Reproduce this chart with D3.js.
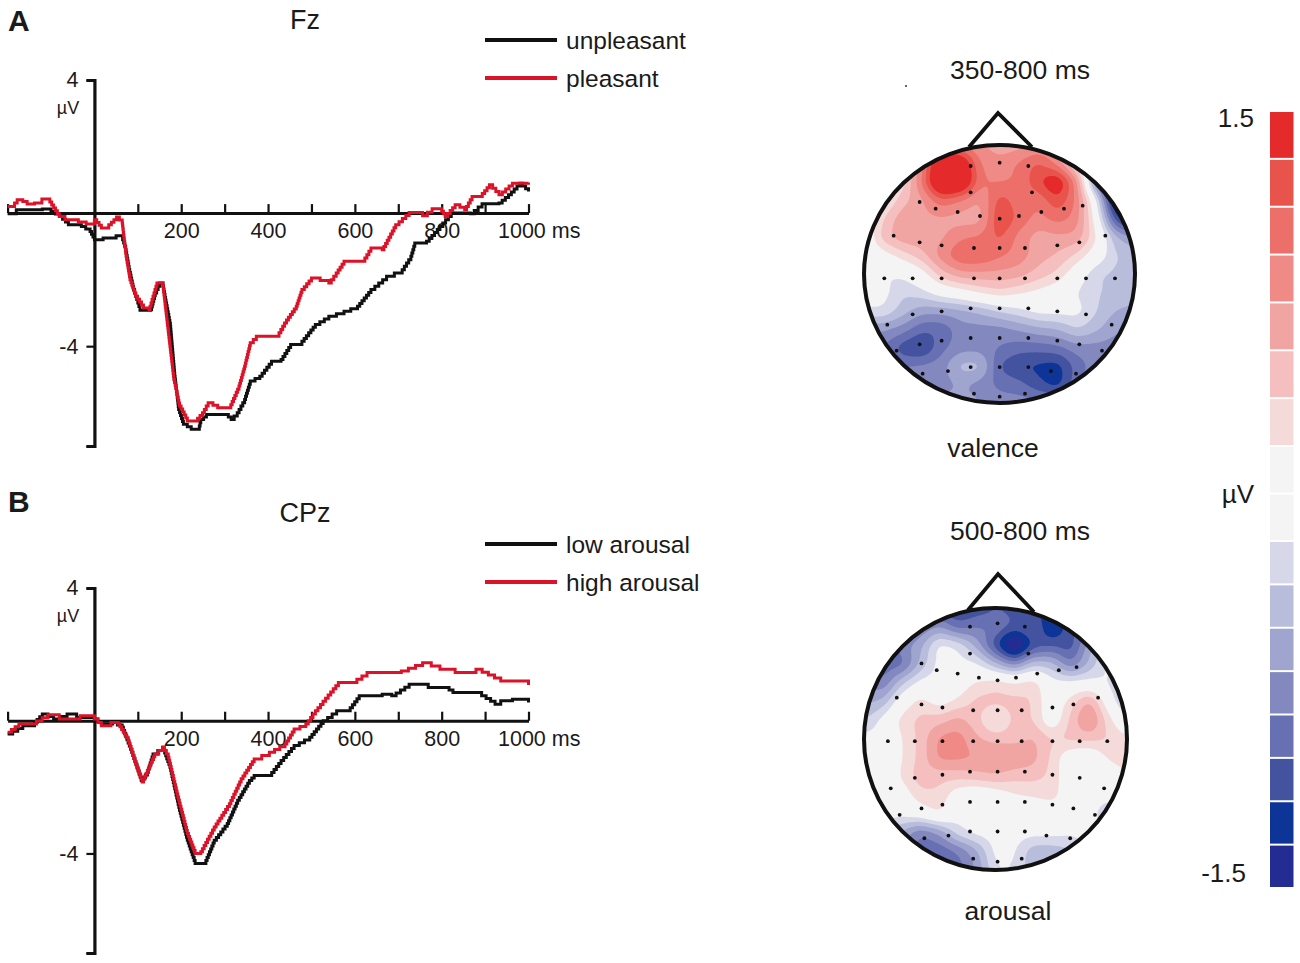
<!DOCTYPE html>
<html><head><meta charset="utf-8">
<script src="https://cdn.jsdelivr.net/npm/d3@7"></script>
<style>html,body{margin:0;background:#fff}svg{display:block}text{font-family:"Liberation Sans",Arial,sans-serif;fill:#1a1a1a}</style>
</head><body><svg id="c" width="1300" height="963"></svg>
<script>
// ERP waveforms: [ms, µV]
const unpleasant=[[-200,-.02],[-180,.1],[-120,.12],[-100,.05],[-80,-.1],[-60,-.35],[-30,-.4],[-10,-.55],[0,-.8],[20,-.75],[50,-.68],[65,-.8],[72,-1.1],[80,-1.7],[90,-2.3],[100,-2.7],[105,-2.92],[130,-2.9],[140,-2.4],[150,-2.1],[158,-2.2],[165,-2.7],[175,-3.4],[185,-4.9],[194,-5.9],[205,-6.35],[223,-6.5],[240,-6.5],[245,-6.2],[258,-6.05],[276,-6.05],[302,-6.05],[315,-6.2],[329,-6],[346,-5.6],[359,-5.05],[381,-4.9],[408,-4.45],[430,-4.4],[452,-3.95],[478,-3.85],[509,-3.35],[540,-3.1],[575,-2.95],[606,-2.8],[637,-2.3],[673,-1.9],[709,-1.7],[729,-1.3],[738,-.9],[765,-.85],[796,-.4],[822,0],[866,-.02],[893,.28],[932,.3],[954,.55],[980,.9],[1000,.65]];
const pleasant=[[-200,.2],[-190,.2],[-178,.4],[-165,.35],[-155,.27],[-138,.3],[-121,.42],[-107,.42],[-94,.15],[-81,-.1],[-68,-.2],[-55,-.2],[-37,-.27],[-19,-.33],[0,-.2],[16,-.45],[33,-.35],[51,-.12],[64,-.3],[73,-1.3],[82,-2],[95,-2.5],[113,-2.85],[126,-2.9],[135,-2.5],[144,-2.1],[157,-2.1],[166,-3.1],[174,-4],[183,-5],[196,-5.8],[214,-6.25],[232,-6.25],[249,-6],[262,-5.7],[284,-5.85],[311,-5.85],[333,-5.2],[346,-4.6],[359,-3.9],[373,-3.7],[421,-3.7],[438,-3.3],[465,-2.8],[478,-2.3],[500,-1.95],[540,-2.1],[557,-1.8],[575,-1.45],[623,-1.35],[637,-1.05],[663,-1.1],[694,-.35],[725,.02],[756,-.08],[778,.13],[796,.13],[808,-.1],[831,.25],[853,.1],[870,.5],[888,.5],[910,.85],[932,.55],[963,.9],[1000,.92]];
const lowArousal=[[-200,-.4],[-165,-.15],[-138,-.05],[-120,.2],[-94,.05],[-63,.2],[-41,.1],[0,.05],[16,-.1],[42,-.05],[64,-.2],[86,-.95],[108,-1.8],[122,-1.55],[135,-1],[157,-.8],[174,-1.4],[196,-2.7],[214,-3.6],[232,-4.3],[254,-4.3],[276,-3.6],[306,-3.1],[330,-2.4],[357,-1.8],[368,-1.65],[403,-1.65],[430,-1.2],[460,-.75],[496,-.5],[527,0],[558,.3],[584,.3],[610,.75],[663,.8],[685,.75],[725,1.1],[769,1],[808,1],[826,.85],[892,.75],[923,.5],[936,.6],[963,.65],[1000,.55]];
const highArousal=[[-200,-.35],[-174,-.1],[-147,-.1],[-107,.18],[-81,.05],[-33,.15],[0,.05],[16,-.15],[38,-.05],[55,-.1],[78,-.6],[95,-1.3],[110,-1.85],[122,-1.5],[139,-1],[157,-.8],[170,-1.1],[192,-2.3],[214,-3.4],[232,-4],[245,-3.95],[276,-3.2],[311,-2.5],[338,-1.75],[368,-1.15],[403,-.95],[439,-.7],[460,-.25],[487,-.1],[509,.3],[562,1.15],[593,1.15],[628,1.45],[707,1.5],[756,1.75],[796,1.55],[831,1.45],[879,1.55],[936,1.2],[1000,1.08]];
const xTicks=[-200,100,200,300,400,500,600,700,800,900,1000];
const xLabels=[200,400,600,800,1000];
const yTicks=[4,-4,-7];
const yLabels=[4,-4];

// Scalp fields (µV) sampled on a 15×15 grid across each head's bounding box
const fieldValence=[
[0,0,.3,.6,.9,.9,.8,.7,.7,.8,.7,.4,0,-.5,-1],
[0,0,.2,.9,1.8,1.7,.95,.85,1,1.2,.9,.3,-.3,-1.2,-1.5],
[0,0,.35,1,1.9,1.8,1,.95,1,1.3,1.6,.9,-.8,-1.7,-1.8],
[0,.2,.55,.75,1.1,.95,.75,1.25,1.05,1,1.3,.95,0,-1.6,-1.8],
[0,.45,.75,.75,.75,.7,.7,1.35,1.1,.9,1.05,.9,.15,-1.1,-1.5],
[0,.55,.75,.75,.75,.95,1,1.2,.9,.7,.75,.75,.3,-.4,-.6],
[0,.15,.35,.55,.9,1.15,1.15,1,.9,.7,.6,.4,.1,-.25,-.35],
[0,-.1,-.05,.15,.55,.75,.75,.75,.7,.55,.4,.08,-.25,-.3,-.35],
[0,0,-.25,-.15,.05,.15,.3,.4,.3,.2,.1,-.1,-.25,-.3,-.35],
[-.1,-.1,-.35,-.55,-.55,-.5,-.4,-.25,-.15,0,0,0,-.25,-.45,-.5],
[-.6,-.6,-.7,-.95,-.95,-.7,-.7,-.7,-.6,-.5,-.45,-.25,-.4,-.6,-.6],
[-.8,-.8,-1.1,-1.2,-.85,-.7,-.7,-.8,-.9,-.9,-.85,-.7,-.7,-.7,-.7],
[-.7,-.7,-.8,-.75,-.7,-.35,-.35,-1,-1.15,-1.2,-1.25,-.9,-.7,-.7,-.7],
[-.6,-.6,-.6,-.65,-.7,-.6,-.7,-.85,-.9,-1.1,-1.25,-.85,-.6,-.6,-.6],
[-.5,-.5,-.5,-.5,-.55,-.55,-.6,-.7,-.7,-.7,-.7,-.6,-.5,-.5,-.5]];
const fieldArousal=[
[-1,-1,-1,-1,-1.1,-1.2,-1.1,-1,-1,-1.1,-1.3,-1.2,-.9,-.7,-.4],
[-1,-1,-1,-.8,-.6,-.9,-.8,-.8,-1,-.9,-1.4,-1,-.8,-.4,-.3],
[-1,-1,-.7,-.5,0,-.1,-.5,-1.1,-1.8,-1.1,-1,-1.1,-.5,-.15,-.1],
[-1,-.9,-.9,-.4,0,0,-.05,-.4,-.7,-.3,-.35,-.8,-.4,0,0],
[-.6,-.8,-.3,0,0,.1,.3,.4,.3,.4,0,0,0,-.1,-.4],
[-.5,-.4,.1,.35,.15,.3,.5,.5,.5,.45,.05,.35,.7,.1,-.4],
[-.3,0,.35,.5,.55,.7,.5,.15,.5,.45,.05,.5,.9,.35,0],
[0,0,.25,.5,.85,.9,.65,.55,.55,.65,.45,.5,.5,.45,.3],
[0,0,.25,.5,.85,.85,.8,.85,.8,.7,.4,.05,0,.3,.5],
[0,0,.3,.55,.5,.5,.55,.6,.5,.5,.4,.05,0,0,.15],
[0,0,.1,.4,.4,.1,0,.1,.25,.3,.35,.1,0,0,0],
[0,0,0,.1,.3,0,0,0,0,0,.1,.2,0,-.25,-.25],
[-.2,-.2,-.5,-.8,-.6,-.15,0,0,0,0,0,-.05,0,-.1,-.1],
[-.4,-.4,-.5,-.95,-.95,-.8,-.5,0,-.05,-.4,-.4,-.3,-.1,-.1,-.1],
[-.6,-.6,-.6,-.9,-.9,-.9,-.6,-.1,-.1,-.4,-.4,-.3,-.1,-.1,-.1]];
const electrodeX=[362,449,535,362,546,209,257,323,390,449,507,574,642,698,131,209,275,372,449,525,622,688,766,103,188,275,372,449,525,622,708,795,188,275,362,449,535,622,708,112,785,209,275,362,449,535,622,688,140,756,294,362,449,535,603,218,678,372,449,525];
const electrodeY=[198,188,198,277,277,306,326,336,348,356,348,336,326,317,407,427,436,444,444,444,436,427,407,535,535,535,535,535,535,535,535,535,643,634,625,625,625,634,643,674,674,733,722,714,714,714,722,733,752,752,813,801,801,801,813,821,821,881,890,881];

const colorbarLevels=["#e42a2a","#e8534b","#ec7069","#ef8a86","#f1a5a3","#f4bfbe","#f5dada","#f4f4f5","#f4f4f5","#d6d8ea","#b9bddc","#a0a5cf","#8389bf","#6670b2","#43539f","#0c3597","#232c92"];
const colorbarIndex=d3.range(colorbarLevels.length);

const svg=d3.select("#c");
const BLACK="#111",RED="#dc1228";

// Curve that draws each segment as a staircase, as in the low-resolution original trace
function StairCurve(ctx){this._c=ctx;}
StairCurve.prototype={
  areaStart(){},areaEnd(){},
  lineStart(){this._p=null;},lineEnd(){},
  point(x,y){
    if(!this._p)this._c.moveTo(x,y);
    else{
      const [x0,y0]=this._p,n=Math.max(1,Math.round(Math.abs(y-y0)/3));
      for(let k=1;k<=n;k++){
        const xk=x0+(x-x0)*k/n;
        this._c.lineTo(xk,y0+(y-y0)*(k-1)/n);
        this._c.lineTo(xk,y0+(y-y0)*k/n);
      }
    }
    this._p=[x,y];
  }
};
const stair=ctx=>new StairCurve(ctx);

function erp(o){
  const g=svg.append("g");
  const x=d3.scaleLinear().domain([-200,1000]).range([7.6,528.5]);
  const y=d3.scaleLinear().domain([4,-7]).range([o.y4,o.yBottom]);
  const xa=d3.axisBottom(x).tickValues(xTicks).tickSizeInner(-9).tickSizeOuter(0).tickPadding(10)
    .tickFormat(d=>xLabels.includes(d)?(d===1000?"1000 ms":d):"");
  const gx=g.append("g").attr("transform",`translate(0,${y(0)})`).call(xa);
  gx.selectAll(".tick text").attr("font-size",21.5).attr("fill","#1a1a1a")
    .filter(d=>d===1000).attr("text-anchor","start").attr("x",-31);
  gx.selectAll(".tick line").attr("stroke",BLACK).attr("stroke-width",2.2);
  gx.select(".domain").attr("stroke",BLACK).attr("stroke-width",3);
  const ya=d3.axisLeft(y).tickValues(yTicks).tickSize(8).tickPadding(8).tickFormat(d=>yLabels.includes(d)?d:"");
  const gy=g.append("g").attr("transform",`translate(${x(0)},0)`).call(ya);
  gy.selectAll(".tick text").attr("font-size",21.5).attr("fill","#1a1a1a");
  gy.selectAll(".tick line").attr("stroke",BLACK).attr("stroke-width",2.2);
  gy.select(".domain").attr("stroke",BLACK).attr("stroke-width",3.2);
  g.append("text").attr("x",68).attr("y",y(4)+34).attr("text-anchor","middle").attr("font-size",18).text("µV");
  const path=d3.line().x(d=>x(d[0])).y(d=>y(d[1])).curve(stair);
  g.append("path").datum(o.black).attr("d",path).attr("fill","none").attr("stroke",BLACK).attr("stroke-width",3);
  g.append("path").datum(o.red).attr("d",path).attr("fill","none").attr("stroke",RED).attr("stroke-width",3);
  g.append("text").attr("x",8).attr("y",o.letterY).attr("font-weight","bold").attr("font-size",30).text(o.letter);
  g.append("text").attr("x",305).attr("y",o.titleY).attr("text-anchor","middle").attr("font-size",27).text(o.title);
  [[o.names[0],BLACK,o.legY],[o.names[1],RED,o.legY+38]].forEach(([n,c,ly])=>{
    g.append("line").attr("x1",485).attr("x2",557).attr("y1",ly).attr("y2",ly).attr("stroke",c).attr("stroke-width",4);
    g.append("text").attr("x",566).attr("y",ly+9).attr("font-size",24.5).text(n);
  });
}
erp({black:unpleasant,red:pleasant,y4:80,yBottom:446,letter:"A",letterY:31,title:"Fz",titleY:29,names:["unpleasant","pleasant"],legY:40});
erp({black:lowArousal,red:highArousal,y4:588,yBottom:953,letter:"B",letterY:512,title:"CPz",titleY:522,names:["low arousal","high arousal"],legY:544});

// Colour bar
const barY=d3.scaleLinear().domain([0,7,9,17]).range([112,447,542,889]);
svg.append("g").selectAll("rect").data(colorbarIndex).join("rect")
  .attr("x",1270).attr("width",23.5).attr("y",i=>barY(i)).attr("height",i=>barY(i+1)-barY(i)-2)
  .attr("fill",i=>colorbarLevels[i]);
svg.append("text").attr("x",1254).attr("y",127).attr("text-anchor","end").attr("font-size",26).text("1.5");
svg.append("text").attr("x",1238).attr("y",503).attr("text-anchor","middle").attr("font-size",26).text("µV");
svg.append("text").attr("x",1246).attr("y",882).attr("text-anchor","end").attr("font-size",26).text("-1.5");

// Topographic maps
const UP=8;
function upsample(grid){
  const n=grid.length,w=(n-1)*UP+1;
  let a=new Float64Array(w*w);
  for(let j=0;j<w;j++)for(let i=0;i<w;i++){
    const gx=i/UP,gy=j/UP,x0=Math.min(n-2,Math.floor(gx)),y0=Math.min(n-2,Math.floor(gy)),fx=gx-x0,fy=gy-y0;
    a[j*w+i]=(grid[y0][x0]*(1-fx)+grid[y0][x0+1]*fx)*(1-fy)+(grid[y0+1][x0]*(1-fx)+grid[y0+1][x0+1]*fx)*fy;
  }
  const R=2;
  for(let pass=0;pass<2;pass++){
    for(const dir of [0,1]){
      const b=new Float64Array(w*w);
      for(let j=0;j<w;j++)for(let i=0;i<w;i++){
        let s=0,c=0;
        for(let k=-R;k<=R;k++){
          const ii=dir?i:i+k,jj=dir?j+k:j;
          if(ii>=0&&ii<w&&jj>=0&&jj<w){s+=a[jj*w+ii];c++;}
        }
        b[j*w+i]=s/c;
      }
      a=b;
    }
  }
  return {a,w};
}
const bandEdges=[-99].concat(d3.range(1,17).map(i=>-1.5+i*3/17));
const bandColors=colorbarLevels.slice().reverse();
function topo(o,id){
  const {a,w}=upsample(o.field);
  const sx=d3.scaleLinear().domain([0,w-1]).range([o.cx-o.rx,o.cx+o.rx]);
  const sy=d3.scaleLinear().domain([0,w-1]).range([o.cy-o.ry,o.cy+o.ry]);
  const cs=d3.contours().size([w,w]).thresholds(bandEdges)(Array.from(a));
  const proj=d3.geoTransform({point(x,y){this.stream.point(sx(x-.5),sy(y-.5));}});
  const gp=d3.geoPath(proj);
  svg.append("clipPath").attr("id",id).append("ellipse").attr("cx",o.cx).attr("cy",o.cy).attr("rx",o.rx).attr("ry",o.ry);
  const g=svg.append("g");
  g.append("g").attr("clip-path",`url(#${id})`).selectAll("path").data(cs).join("path")
    .attr("d",gp).attr("fill",(d,i)=>bandColors[i]);
  g.append("path").attr("d",d3.line()(o.nose)).attr("fill","none").attr("stroke","#111").attr("stroke-width",3.8);
  g.append("ellipse").attr("cx",o.cx).attr("cy",o.cy).attr("rx",o.rx).attr("ry",o.ry).attr("fill","none").attr("stroke","#111").attr("stroke-width",4);
  const ex=d3.scaleLinear().domain([103,795]).range(o.ex),ey=d3.scaleLinear().domain([198,890]).range(o.ey);
  g.selectAll("circle").data(electrodeX).join("circle")
    .attr("cx",d=>ex(d)).attr("cy",(d,i)=>ey(electrodeY[i])).attr("r",1.9).attr("fill","#111");
  svg.append("text").attr("x",1020).attr("y",o.topY).attr("text-anchor","middle").attr("font-size",26.5).text(o.top);
  svg.append("text").attr("x",o.labelX).attr("y",o.labelY).attr("text-anchor","middle").attr("font-size",26.5).text(o.label);
}
topo({field:fieldValence,cx:999.5,cy:274,rx:135.5,ry:129,nose:[[969,147],[998,113],[1032,147]],ex:[884.3,1115],ey:[166,396.7],top:"350-800 ms",topY:79,label:"valence",labelX:993,labelY:457},"h1");
topo({field:fieldArousal,cx:995.5,cy:739,rx:131.5,ry:131,nose:[[968,610],[998,574],[1034,612]],ex:[887.9,1107.3],ey:[626.7,861.7],top:"500-800 ms",topY:540,label:"arousal",labelX:1008,labelY:920},"h2");
svg.append("circle").attr("cx",906).attr("cy",86).attr("r",1).attr("fill","#333");
</script></body></html>
